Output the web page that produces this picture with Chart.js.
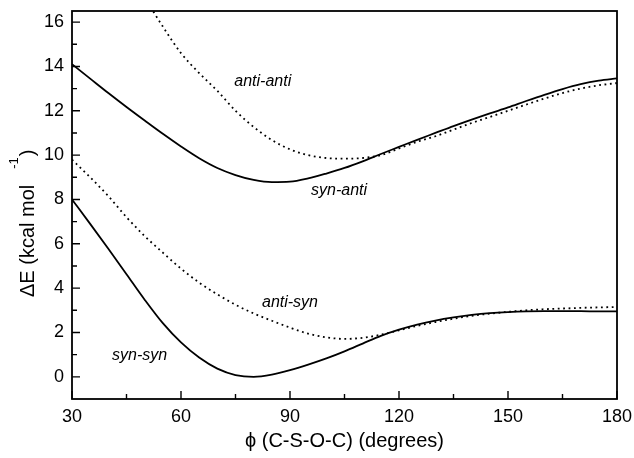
<!DOCTYPE html>
<html>
<head>
<meta charset="utf-8">
<script src="https://cdn.jsdelivr.net/npm/chart.js@4"></script>
<style>
  html, body { margin: 0; padding: 0; background: #fff; }
  #c { display: block; }
</style>
</head>
<body>
<canvas id="c" width="634" height="458"></canvas>
<script>
// ---- data ----
const phi = [30,35,40,45,50,55,60,65,70,75,80,85,90,95,100,105,110,115,120,125,130,135,140,145,150,155,160,165,170,175,180];
const synSyn  = [8.0,6.9,5.78,4.63,3.48,2.42,1.55,0.87,0.37,0.08,0.0,0.1,0.3,0.55,0.83,1.15,1.5,1.85,2.13,2.36,2.54,2.68,2.79,2.87,2.92,2.95,2.96,2.96,2.96,2.95,2.95];
const antiSyn = [9.8,9.0,8.15,7.2,6.35,5.6,4.88,4.25,3.72,3.25,2.86,2.53,2.22,1.95,1.78,1.71,1.76,1.9,2.1,2.3,2.47,2.62,2.75,2.85,2.93,3.0,3.05,3.08,3.11,3.13,3.15];
const synAnti = [14.1,13.45,12.8,12.17,11.56,10.96,10.39,9.86,9.42,9.1,8.88,8.78,8.8,8.95,9.17,9.42,9.72,10.05,10.37,10.69,11.0,11.31,11.6,11.88,12.15,12.44,12.72,12.98,13.2,13.36,13.46];
const antiAnti = [null,null,null,null,17.1,15.8,14.6,13.7,12.9,12.0,11.27,10.68,10.26,10.0,9.87,9.84,9.87,10.0,10.3,10.6,10.85,11.15,11.45,11.72,12.0,12.28,12.55,12.8,13.0,13.15,13.25];

const xTicks = [30,60,90,120,150,180];
const xMinorTicks = [45,75,105,135,165];
const yTicks = [0,2,4,6,8,10,12,14,16];
const yMinorTicks = [1,3,5,7,9,11,13,15];

const curveLabels = ["anti-anti","syn-anti","anti-syn","syn-syn"];
const curveLabelX = [82.5,103.5,90,48.6];
const curveLabelY = [13.3,8.38,3.37,0.98];

const yTitleMain = "ΔE (kcal mol";
const yTitleSup = "-1";
const yTitleEnd = ")";
const xTitle = "ϕ (C-S-O-C) (degrees)";

const FONT = "'Liberation Sans', Arial, sans-serif";

function series(vals) { return phi.map((x,i) => ({x: x, y: vals[i]})); }

const framePlugin = {
  id: 'frame',
  afterDatasetsDraw(chart) {
    const ctx = chart.ctx, a = chart.chartArea;
    const xs = chart.scales.x, ys = chart.scales.y;
    ctx.save();
    ctx.strokeStyle = '#000';
    ctx.lineWidth = 1.8;
    ctx.strokeRect(a.left, a.top, a.right - a.left, a.bottom - a.top);
    ctx.lineWidth = 1.4;
    ctx.beginPath();
    xTicks.forEach(v => { const p = xs.getPixelForValue(v); ctx.moveTo(p, a.bottom); ctx.lineTo(p, a.bottom - 8); });
    xMinorTicks.forEach(v => { const p = xs.getPixelForValue(v); ctx.moveTo(p, a.bottom); ctx.lineTo(p, a.bottom - 5); });
    yTicks.forEach(v => { const p = ys.getPixelForValue(v); ctx.moveTo(a.left, p); ctx.lineTo(a.left + 8, p); });
    yMinorTicks.forEach(v => { const p = ys.getPixelForValue(v); ctx.moveTo(a.left, p); ctx.lineTo(a.left + 5, p); });
    ctx.stroke();
    ctx.fillStyle = '#000';
    ctx.font = 'italic 16px ' + FONT;
    ctx.textAlign = 'center';
    ctx.textBaseline = 'middle';
    curveLabels.forEach((t, i) => {
      ctx.fillText(t, xs.getPixelForValue(curveLabelX[i]), ys.getPixelForValue(curveLabelY[i]));
    });
    // y axis title with raised superscript
    const startY = (a.top + a.bottom) / 2 + 92;
    ctx.translate(34, startY);
    ctx.rotate(-Math.PI / 2);
    ctx.textAlign = 'left';
    ctx.textBaseline = 'alphabetic';
    ctx.font = '20px ' + FONT;
    ctx.fillText(yTitleMain, 0, 0);
    const w = ctx.measureText(yTitleMain).width;
    ctx.font = '13px ' + FONT;
    const supX = w + 16;
    ctx.fillText(yTitleSup, supX, -16);
    const ws = ctx.measureText(yTitleSup).width;
    ctx.font = '20px ' + FONT;
    ctx.fillText(yTitleEnd, supX + ws + 1, 0);
    ctx.restore();
  }
};

new Chart(document.getElementById('c'), {
  type: 'line',
  data: {
    datasets: [
      { label: 'syn-syn', data: series(synSyn), borderColor: '#000', borderWidth: 1.8 },
      { label: 'anti-syn', data: series(antiSyn), borderColor: '#000', borderWidth: 1.8, borderDash: [1.8, 3.6] },
      { label: 'syn-anti', data: series(synAnti), borderColor: '#000', borderWidth: 1.8 },
      { label: 'anti-anti', data: series(antiAnti), borderColor: '#000', borderWidth: 1.8, borderDash: [1.8, 3.6] }
    ]
  },
  options: {
    responsive: false,
    animation: false,
    devicePixelRatio: 1,
    layout: { padding: { left: 0, right: 17, top: 11, bottom: 5 } },
    elements: {
      point: { radius: 0, hoverRadius: 0 },
      line: { cubicInterpolationMode: 'monotone', fill: false }
    },
    plugins: { legend: { display: false }, tooltip: { enabled: false } },
    scales: {
      x: {
        type: 'linear', min: 30, max: 180,
        grid: { display: false, drawTicks: false }, border: { display: false },
        afterBuildTicks: s => { s.ticks = xTicks.map(v => ({value: v})); },
        afterFit: s => { s.height = 54; s.paddingLeft = 0; s.paddingRight = 0; },
        ticks: { color: '#000', font: { family: FONT, size: 18 }, padding: 7, maxRotation: 0 },
        title: { display: true, text: xTitle, color: '#000', font: { family: FONT, size: 20 }, padding: { top: 2, bottom: 0 } }
      },
      y: {
        type: 'linear', min: -1, max: 16.5,
        grid: { display: false, drawTicks: false }, border: { display: false },
        afterBuildTicks: s => { s.ticks = yTicks.map(v => ({value: v})); },
        afterFit: s => { s.width = 72; s.paddingTop = 0; s.paddingBottom = 0; },
        ticks: { color: '#000', font: { family: FONT, size: 18 }, padding: 8 },
        title: { display: false }
      }
    }
  },
  plugins: [framePlugin]
});
</script>
</body>
</html>
